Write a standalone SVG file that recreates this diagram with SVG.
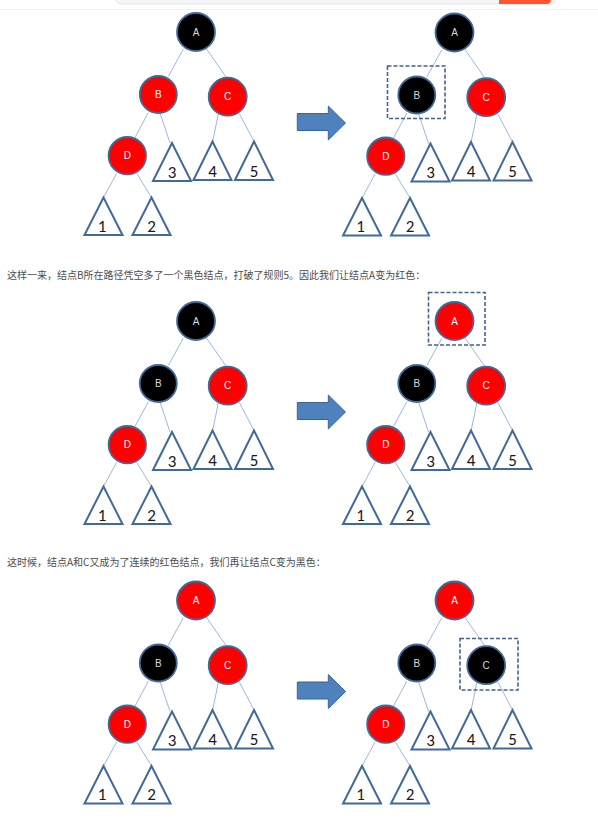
<svg xmlns="http://www.w3.org/2000/svg" xmlns:xlink="http://www.w3.org/1999/xlink" width="598" height="830" viewBox="0 0 598 830">
<style>
.red{fill:#ff0000;stroke:#41699a;stroke-width:1.8}
.blk{fill:#000000;stroke:#41699a;stroke-width:1.8}
.lbl{font-family:"Liberation Sans",Arial,sans-serif;font-size:10px;text-anchor:middle;fill:#ffffff}
.lblk{font-family:"Liberation Sans",Arial,sans-serif;font-size:10px;text-anchor:middle;fill:#d9d9d9}
.tri{fill:#ffffff;stroke:#41699a;stroke-width:2;stroke-linejoin:miter}
.num{font-family:"Carlito","Liberation Sans",Arial,sans-serif;font-size:17px;text-anchor:middle;fill:#1a1a1a}
.edge{stroke:#9fb8da;stroke-width:1;fill:none}
.box{fill:none;stroke:#41638f;stroke-width:1.6;stroke-dasharray:4 2}
.arrow{fill:#4f81bd;stroke:#3a639a;stroke-width:1}
.para{font-family:"Noto Sans CJK SC","Noto Sans",sans-serif;font-size:10px;fill:#4d4d4d}
</style>
<defs>
<g id="edges">
<line class="edge" x1="183.3" y1="49.3" x2="168.3" y2="76.5"/>
<line class="edge" x1="206" y1="48.3" x2="226.7" y2="78"/>
<line class="edge" x1="148.3" y1="112.7" x2="135" y2="137.5"/>
<line class="edge" x1="160" y1="113" x2="170" y2="143"/>
<line class="edge" x1="218.3" y1="114" x2="212.7" y2="141.5"/>
<line class="edge" x1="239.3" y1="113.5" x2="254" y2="141.5"/>
<line class="edge" x1="116.7" y1="173.3" x2="103.5" y2="197.5"/>
<line class="edge" x1="136.7" y1="173.3" x2="151.5" y2="197.5"/>
</g>
</defs>
<!-- top bar -->
<rect x="116" y="-6" width="440" height="10" rx="5" fill="#f5f6f7" stroke="#e3e5e8" stroke-width="1"/>
<path d="M499,-1 H551 V0 Q551,4 546,4 H499 Z" fill="#fc5531"/>
<line x1="0" y1="9.5" x2="598" y2="9.5" stroke="#f2f2f2" stroke-width="1"/>

<!-- connectors -->
<g id="connectors">
<use xlink:href="#edges" href="#edges"/>
<use xlink:href="#edges" href="#edges" transform="translate(258.5,0.5)"/>
<use xlink:href="#edges" href="#edges" transform="translate(0,289)"/>
<use xlink:href="#edges" href="#edges" transform="translate(258.5,289)"/>
<use xlink:href="#edges" href="#edges" transform="translate(0,568.5)"/>
<use xlink:href="#edges" href="#edges" transform="translate(258.5,568.5)"/>
<polygon class="arrow" points="297.3,113.5 328.3,113.5 328.3,106 345.5,123 328.3,140 328.3,130.5 297.3,130.5"/>
<polygon class="arrow" points="297.3,402.5 328.3,402.5 328.3,395 345.5,412 328.3,429 328.3,419.5 297.3,419.5"/>
<polygon class="arrow" points="297.3,682 328.3,682 328.3,674.5 345.5,691.5 328.3,708.5 328.3,699 297.3,699"/>
</g>

<!-- Tree 1 left -->
<g id="tree1L">
<g id="t1L-A"><circle class="blk" cx="196" cy="32" r="19"/><text class="lblk" x="196" y="35.5">A</text></g>
<g id="t1L-B"><circle class="red" cx="158.3" cy="94.5" r="18.5"/><text class="lbl" x="158.3" y="98">B</text></g>
<g id="t1L-C"><circle class="red" cx="227.7" cy="96.7" r="19"/><text class="lbl" x="227.7" y="100.2">C</text></g>
<g id="t1L-D"><circle class="red" cx="127.3" cy="155.7" r="18.7"/><text class="lbl" x="127.3" y="159.2">D</text></g>
<g id="t1L-3"><polygon class="tri" points="172,143 153,181 191,181"/><text class="num" x="172" y="177.5">3</text></g>
<g id="t1L-4"><polygon class="tri" points="212.5,141.5 193.5,180 231.5,180"/><text class="num" x="212.5" y="176.5">4</text></g>
<g id="t1L-5"><polygon class="tri" points="254,141.5 235,180 273,180"/><text class="num" x="254" y="176.5">5</text></g>
<g id="t1L-1"><polygon class="tri" points="103.5,197.5 84.5,235 122.5,235"/><text class="num" x="102" y="231.5">1</text></g>
<g id="t1L-2"><polygon class="tri" points="151.5,197.5 132.5,235 170.5,235"/><text class="num" x="151.5" y="231.5">2</text></g>
</g>

<!-- Tree 1 right -->
<g id="tree1R" transform="translate(258.5,0.5)">
<g id="t1R-A"><circle class="blk" cx="196" cy="32" r="19"/><text class="lblk" x="196" y="35.5">A</text></g>
<g id="t1R-B"><circle class="blk" cx="158.3" cy="94.5" r="18.5"/><text class="lblk" x="158.3" y="98">B</text></g>
<g id="t1R-C"><circle class="red" cx="227.7" cy="96.7" r="19"/><text class="lbl" x="227.7" y="100.2">C</text></g>
<g id="t1R-D"><circle class="red" cx="127.3" cy="155.7" r="18.7"/><text class="lbl" x="127.3" y="159.2">D</text></g>
<g id="t1R-3"><polygon class="tri" points="172,143 153,181 191,181"/><text class="num" x="172" y="177.5">3</text></g>
<g id="t1R-4"><polygon class="tri" points="212.5,141.5 193.5,180 231.5,180"/><text class="num" x="212.5" y="176.5">4</text></g>
<g id="t1R-5"><polygon class="tri" points="254,141.5 235,180 273,180"/><text class="num" x="254" y="176.5">5</text></g>
<g id="t1R-1"><polygon class="tri" points="103.5,197.5 84.5,235 122.5,235"/><text class="num" x="102" y="231.5">1</text></g>
<g id="t1R-2"><polygon class="tri" points="151.5,197.5 132.5,235 170.5,235"/><text class="num" x="151.5" y="231.5">2</text></g>
</g>
<rect id="box1" class="box" x="387.5" y="66" width="57.5" height="52.5"/>

<text class="para" x="7" y="279">这样一来，结点B所在路径凭空多了一个黑色结点，打破了规则5。因此我们让结点A变为红色：</text>

<!-- Tree 2 left -->
<g id="tree2L" transform="translate(0,289)">
<g id="t2L-A"><circle class="blk" cx="196" cy="32" r="19"/><text class="lblk" x="196" y="35.5">A</text></g>
<g id="t2L-B"><circle class="blk" cx="158.3" cy="94.5" r="18.5"/><text class="lblk" x="158.3" y="98">B</text></g>
<g id="t2L-C"><circle class="red" cx="227.7" cy="96.7" r="19"/><text class="lbl" x="227.7" y="100.2">C</text></g>
<g id="t2L-D"><circle class="red" cx="127.3" cy="155.7" r="18.7"/><text class="lbl" x="127.3" y="159.2">D</text></g>
<g id="t2L-3"><polygon class="tri" points="172,143 153,181 191,181"/><text class="num" x="172" y="177.5">3</text></g>
<g id="t2L-4"><polygon class="tri" points="212.5,141.5 193.5,180 231.5,180"/><text class="num" x="212.5" y="176.5">4</text></g>
<g id="t2L-5"><polygon class="tri" points="254,141.5 235,180 273,180"/><text class="num" x="254" y="176.5">5</text></g>
<g id="t2L-1"><polygon class="tri" points="103.5,197.5 84.5,235 122.5,235"/><text class="num" x="102" y="231.5">1</text></g>
<g id="t2L-2"><polygon class="tri" points="151.5,197.5 132.5,235 170.5,235"/><text class="num" x="151.5" y="231.5">2</text></g>
</g>

<!-- Tree 2 right -->
<g id="tree2R" transform="translate(258.5,289)">
<g id="t2R-A"><circle class="red" cx="196" cy="32" r="19"/><text class="lbl" x="196" y="35.5">A</text></g>
<g id="t2R-B"><circle class="blk" cx="158.3" cy="94.5" r="18.5"/><text class="lblk" x="158.3" y="98">B</text></g>
<g id="t2R-C"><circle class="red" cx="227.7" cy="96.7" r="19"/><text class="lbl" x="227.7" y="100.2">C</text></g>
<g id="t2R-D"><circle class="red" cx="127.3" cy="155.7" r="18.7"/><text class="lbl" x="127.3" y="159.2">D</text></g>
<g id="t2R-3"><polygon class="tri" points="172,143 153,181 191,181"/><text class="num" x="172" y="177.5">3</text></g>
<g id="t2R-4"><polygon class="tri" points="212.5,141.5 193.5,180 231.5,180"/><text class="num" x="212.5" y="176.5">4</text></g>
<g id="t2R-5"><polygon class="tri" points="254,141.5 235,180 273,180"/><text class="num" x="254" y="176.5">5</text></g>
<g id="t2R-1"><polygon class="tri" points="103.5,197.5 84.5,235 122.5,235"/><text class="num" x="102" y="231.5">1</text></g>
<g id="t2R-2"><polygon class="tri" points="151.5,197.5 132.5,235 170.5,235"/><text class="num" x="151.5" y="231.5">2</text></g>
</g>
<rect id="box2" class="box" x="428.5" y="292.5" width="56.5" height="52.5"/>

<text class="para" x="7" y="566">这时候，结点A和C又成为了连续的红色结点，我们再让结点C变为黑色：</text>

<!-- Tree 3 left -->
<g id="tree3L" transform="translate(0,568.5)">
<g id="t3L-A"><circle class="red" cx="196" cy="32" r="19"/><text class="lbl" x="196" y="35.5">A</text></g>
<g id="t3L-B"><circle class="blk" cx="158.3" cy="94.5" r="18.5"/><text class="lblk" x="158.3" y="98">B</text></g>
<g id="t3L-C"><circle class="red" cx="227.7" cy="96.7" r="19"/><text class="lbl" x="227.7" y="100.2">C</text></g>
<g id="t3L-D"><circle class="red" cx="127.3" cy="155.7" r="18.7"/><text class="lbl" x="127.3" y="159.2">D</text></g>
<g id="t3L-3"><polygon class="tri" points="172,143 153,181 191,181"/><text class="num" x="172" y="177.5">3</text></g>
<g id="t3L-4"><polygon class="tri" points="212.5,141.5 193.5,180 231.5,180"/><text class="num" x="212.5" y="176.5">4</text></g>
<g id="t3L-5"><polygon class="tri" points="254,141.5 235,180 273,180"/><text class="num" x="254" y="176.5">5</text></g>
<g id="t3L-1"><polygon class="tri" points="103.5,197.5 84.5,235 122.5,235"/><text class="num" x="102" y="231.5">1</text></g>
<g id="t3L-2"><polygon class="tri" points="151.5,197.5 132.5,235 170.5,235"/><text class="num" x="151.5" y="231.5">2</text></g>
</g>

<!-- Tree 3 right -->
<g id="tree3R" transform="translate(258.5,568.5)">
<g id="t3R-A"><circle class="red" cx="196" cy="32" r="19"/><text class="lbl" x="196" y="35.5">A</text></g>
<g id="t3R-B"><circle class="blk" cx="158.3" cy="94.5" r="18.5"/><text class="lblk" x="158.3" y="98">B</text></g>
<g id="t3R-C"><circle class="blk" cx="227.7" cy="96.7" r="19"/><text class="lblk" x="227.7" y="100.2">C</text></g>
<g id="t3R-D"><circle class="red" cx="127.3" cy="155.7" r="18.7"/><text class="lbl" x="127.3" y="159.2">D</text></g>
<g id="t3R-3"><polygon class="tri" points="172,143 153,181 191,181"/><text class="num" x="172" y="177.5">3</text></g>
<g id="t3R-4"><polygon class="tri" points="212.5,141.5 193.5,180 231.5,180"/><text class="num" x="212.5" y="176.5">4</text></g>
<g id="t3R-5"><polygon class="tri" points="254,141.5 235,180 273,180"/><text class="num" x="254" y="176.5">5</text></g>
<g id="t3R-1"><polygon class="tri" points="103.5,197.5 84.5,235 122.5,235"/><text class="num" x="102" y="231.5">1</text></g>
<g id="t3R-2"><polygon class="tri" points="151.5,197.5 132.5,235 170.5,235"/><text class="num" x="151.5" y="231.5">2</text></g>
</g>
<rect id="box3" class="box" x="460" y="638.5" width="58" height="51.5"/>
</svg>
